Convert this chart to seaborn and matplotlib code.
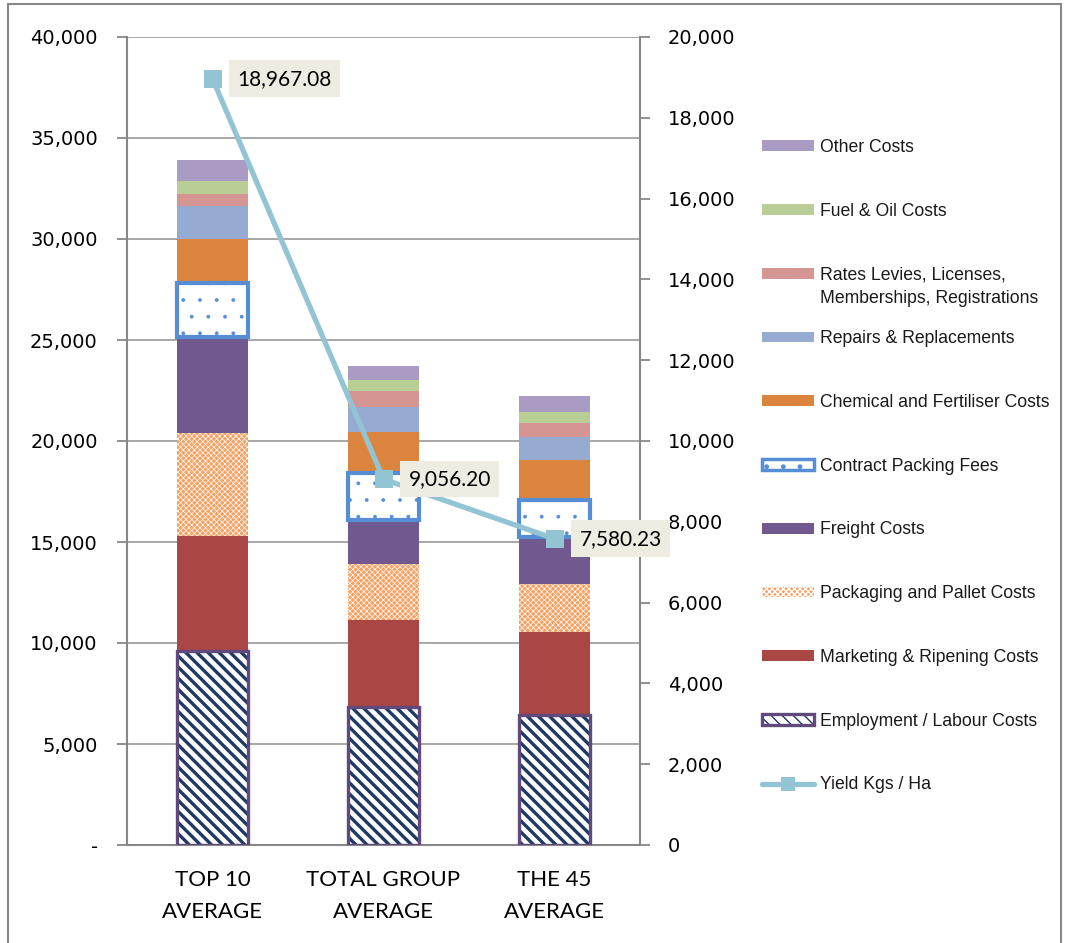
import numpy as np
import pandas as pd
import matplotlib
matplotlib.use("Agg")
import matplotlib.pyplot as plt
from matplotlib import font_manager
from matplotlib.patches import Patch, Rectangle
from matplotlib.lines import Line2D
from matplotlib.legend_handler import HandlerTuple
from matplotlib.ticker import FuncFormatter, FixedLocator
import seaborn as sns

# ---- data: average cost per hectare by component, and yield ----
categories = ["TOP 10\nAVERAGE", "TOTAL GROUP\nAVERAGE", "THE 45\nAVERAGE"]
employment = [9600, 6830, 6440]
marketing = [5700, 4310, 4090]
packaging = [5100, 2760, 2390]
freight = [4750, 2190, 2340]
contract = [2670, 2340, 1820]
chemical = [2180, 2030, 1980]
repairs = [1630, 1240, 1150]
rates = [610, 780, 670]
fuel = [650, 540, 540]
other = [1020, 710, 820]
yield_kg = [18967.08, 9056.20, 7580.23]

left_ticks = list(range(0, 40001, 5000))
right_ticks = list(range(0, 20001, 2000))

sns.set_theme(style="white")


def pick(*names):
    avail = {f.name for f in font_manager.fontManager.ttflist}
    for n in names:
        if n in avail:
            return n
    return "DejaVu Sans"


NARROW = pick("Liberation Sans Narrow", "Liberation Sans", "DejaVu Sans")
HUMAN = pick("Lato", "Open Sans", "DejaVu Sans")
plt.rcParams["font.family"] = ["DejaVu Sans"]

AXIS_GREY = "#878787"
GRID_GREY = "#A0A0A0"

fig = plt.figure(figsize=(10.67, 9.43), dpi=100)
W, H = 1067, 943
ax = fig.add_axes([127 / W, 1 - 845 / H, (640 - 127) / W, (845 - 37) / H])

# stacked layers, bottom to top
RATES_LINE1 = "Rates Levies, Licenses,"
RATES_LINE2 = "Memberships, Registrations"
layers = [
    ("Employment / Labour Costs", employment),
    ("Marketing & Ripening Costs", marketing),
    ("Packaging and Pallet Costs", packaging),
    ("Freight Costs", freight),
    ("Contract Packing Fees", contract),
    ("Chemical and Fertiliser Costs", chemical),
    ("Repairs & Replacements", repairs),
    ("Rates Levies, Licenses, Memberships, Registrations", rates),
    ("Fuel & Oil Costs", fuel),
    ("Other Costs", other),
]

solid_colors = {
    "Marketing & Ripening Costs": "#AA4643",
    "Freight Costs": "#71588F",
    "Chemical and Fertiliser Costs": "#DB843D",
    "Repairs & Replacements": "#95ABD2",
    "Rates Levies, Licenses, Memberships, Registrations": "#D59593",
    "Fuel & Oil Costs": "#B9CE95",
    "Other Costs": "#A99BC3",
}
NAVY = "#1F3864"
LABOUR_EDGE = "#604A7B"
PACK_ORANGE = "#F7A060"
CONTRACT_BLUE = "#558ED5"
YIELD_BLUE = "#93C4D4"
BAR_W = 0.41

STRIPES = "\\\\\\"
PACK_HATCH = "xxxxxx"
DOTS = "."


def set_hlw(artists, lw):
    for a in artists:
        if hasattr(a, "set_hatch_linewidth"):
            a.set_hatch_linewidth(lw)


bottom = np.zeros(len(categories))
for name, vals in layers:
    vals = np.asarray(vals, dtype=float)
    df = pd.DataFrame({"cat": categories, "val": vals})
    if name.startswith("Employment"):
        sns.barplot(data=df, x="cat", y="val", bottom=bottom, width=BAR_W,
                    color="white", edgecolor=NAVY, linewidth=0, hatch=STRIPES,
                    errorbar=None, ax=ax, zorder=2)
        set_hlw(ax.containers[-1], 2.4)
        sns.barplot(data=df, x="cat", y="val", bottom=bottom, width=BAR_W,
                    color=LABOUR_EDGE, fill=False, edgecolor=LABOUR_EDGE, linewidth=2.4,
                    errorbar=None, ax=ax, zorder=3)
    elif name.startswith("Packaging"):
        sns.barplot(data=df, x="cat", y="val", bottom=bottom, width=BAR_W,
                    color=PACK_ORANGE, edgecolor="white", linewidth=0, hatch=PACK_HATCH,
                    saturation=1, errorbar=None, ax=ax, zorder=2)
        set_hlw(ax.containers[-1], 0.5)
    elif name.startswith("Contract"):
        sns.barplot(data=df, x="cat", y="val", bottom=bottom, width=BAR_W,
                    color="white", edgecolor=CONTRACT_BLUE, linewidth=3.0, hatch=DOTS,
                    errorbar=None, ax=ax, zorder=4)
        set_hlw(ax.containers[-1], 0.3)
    else:
        sns.barplot(data=df, x="cat", y="val", bottom=bottom, width=BAR_W,
                    color=solid_colors[name], linewidth=0, saturation=1,
                    errorbar=None, ax=ax, zorder=2)
    bottom = bottom + vals

# left axis
ax.set_ylim(0, 40000)
ax.yaxis.set_major_locator(FixedLocator(left_ticks))
ax.yaxis.set_major_formatter(FuncFormatter(lambda v, p: "-" if v == 0 else f"{int(v):,}"))
ax.set_xlim(-0.5, len(categories) - 0.5)
ax.set_xlabel("")
ax.set_ylabel("")
ax.grid(axis="y", color=GRID_GREY, linewidth=1.3)
ax.grid(axis="x", visible=False)
ax.set_axisbelow(True)
for s in ["top", "right"]:
    ax.spines[s].set_visible(False)
for s in ["left", "bottom"]:
    ax.spines[s].set_color(AXIS_GREY)
    ax.spines[s].set_linewidth(1.5)
ax.set_xticks(range(len(categories)))
ax.set_xticklabels(categories, fontfamily=HUMAN, fontsize=16, linespacing=1.75)
ax.set_xticks([-0.5, 0.5, 1.5, 2.5], minor=True)
ax.tick_params(axis="x", which="major", length=0, pad=18, colors="black")
ax.tick_params(axis="x", which="minor", length=6, width=1.3, color=AXIS_GREY, direction="out")
ax.tick_params(axis="y", which="major", left=True, length=7, width=1.3, color=AXIS_GREY,
               direction="out", pad=14, labelsize=14, labelcolor="black")

# right axis with yield line
ax2 = ax.twinx()
line_df = pd.DataFrame({"pos": np.arange(len(categories)), "yield": yield_kg})
sns.lineplot(data=line_df, x="pos", y="yield", ax=ax2, color=YIELD_BLUE, linewidth=3.8,
             marker="s", markersize=13, markeredgewidth=0, markerfacecolor=YIELD_BLUE,
             zorder=5)
ax2.set_xlim(-0.5, len(categories) - 0.5)
ax2.set_ylim(0, 20000)
ax2.yaxis.set_major_locator(FixedLocator(right_ticks))
ax2.yaxis.set_major_formatter(FuncFormatter(lambda v, p: f"{int(v):,}"))
ax2.set_xlabel("")
ax2.set_ylabel("")
ax2.grid(False)
for s in ["top", "left", "bottom"]:
    ax2.spines[s].set_visible(False)
ax2.spines["right"].set_color(AXIS_GREY)
ax2.spines["right"].set_linewidth(1.5)
ax2.tick_params(axis="y", which="major", right=True, length=7, width=1.3, color=AXIS_GREY,
                direction="out", pad=13, labelsize=14, labelcolor="black")

for i, v in enumerate(yield_kg):
    ax2.annotate(f"{v:,.2f}", xy=(i, v), xytext=(25, 0), textcoords="offset pixels",
                 ha="left", va="center", fontfamily=HUMAN, fontsize=15, color="black",
                 bbox=dict(boxstyle="square,pad=0.4", fc="#EEECE1", ec="none"), zorder=6)

# legend, top to bottom
def solid(c):
    return Patch(facecolor=c, edgecolor="none", linewidth=0)


contract_h = Patch(facecolor="white", edgecolor=CONTRACT_BLUE, linewidth=2.5, hatch=DOTS)
pack_h = Patch(facecolor=PACK_ORANGE, edgecolor="white", linewidth=0, hatch=PACK_HATCH)
lab_fill = Patch(facecolor="white", edgecolor=NAVY, linewidth=0, hatch=STRIPES)
lab_edge = Patch(fill=False, edgecolor=LABOUR_EDGE, linewidth=2.4)
set_hlw([contract_h], 0.3)
set_hlw([pack_h], 0.5)
set_hlw([lab_fill], 2.4)
yield_h = Line2D([], [], color=YIELD_BLUE, linewidth=3.8, marker="s", markersize=10,
                 markeredgewidth=0)

handles = [
    solid(solid_colors["Other Costs"]),
    solid(solid_colors["Fuel & Oil Costs"]),
    solid(solid_colors["Rates Levies, Licenses, Memberships, Registrations"]),
    solid(solid_colors["Repairs & Replacements"]),
    solid(solid_colors["Chemical and Fertiliser Costs"]),
    contract_h,
    solid(solid_colors["Freight Costs"]),
    pack_h,
    solid(solid_colors["Marketing & Ripening Costs"]),
    (lab_fill, lab_edge),
    yield_h,
]
labels = [
    "Other Costs",
    "Fuel & Oil Costs",
    RATES_LINE1,
    "Repairs & Replacements",
    "Chemical and Fertiliser Costs",
    "Contract Packing Fees",
    "Freight Costs",
    "Packaging and Pallet Costs",
    "Marketing & Ripening Costs",
    "Employment / Labour Costs",
    "Yield Kgs / Ha",
]
LEG_SIZE = 12.7
LEG_COLOR = "#1a1a1a"
leg = fig.legend(handles, labels, loc="upper left",
                 bbox_to_anchor=(762 / W, 1 - 139 / H), frameon=False,
                 prop={"family": NARROW, "size": LEG_SIZE}, handlelength=2.95,
                 handleheight=0.55, handletextpad=0.34, labelspacing=2.65,
                 borderaxespad=0, borderpad=0,
                 handler_map={tuple: HandlerTuple(ndivide=1)})
for t in leg.get_texts():
    t.set_color(LEG_COLOR)

# the long rates label wraps onto a second line hanging below its entry
fig.canvas.draw()
bb = leg.get_texts()[2].get_window_extent()
fig.text(bb.x0 / W, (bb.y0 - 7) / H, RATES_LINE2, ha="left", va="top",
         fontfamily=NARROW, fontsize=LEG_SIZE, color=LEG_COLOR)

# outer frame
fig.add_artist(Rectangle((8 / W, -0.02), (1061 - 8) / W, 1.02 - 4 / H,
                         transform=fig.transFigure, fill=False, edgecolor=AXIS_GREY,
                         linewidth=1.5))

fig.savefig("out.png", dpi=100)
